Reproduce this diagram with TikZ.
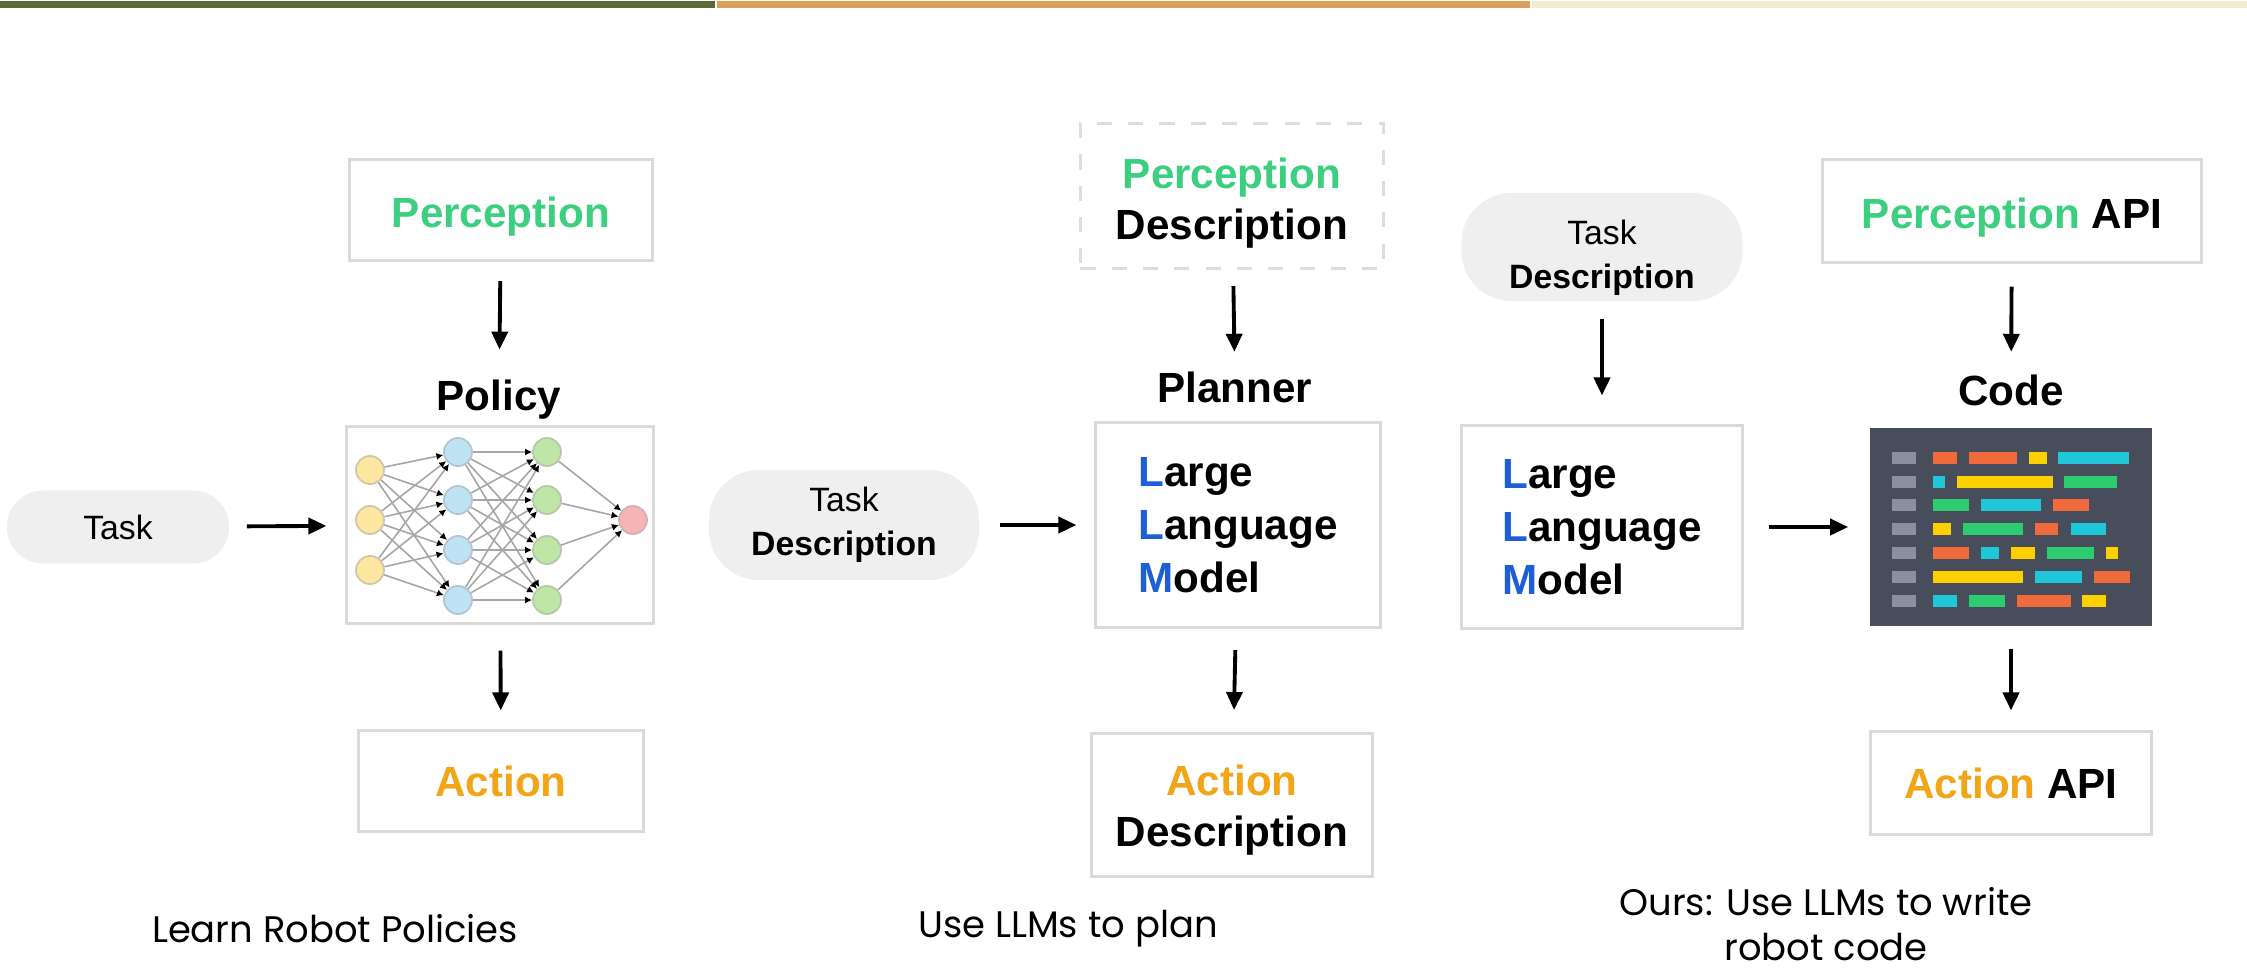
\documentclass[tikz,border=0pt]{standalone}
\usepackage{fontspec}
\setmainfont{Liberation Sans}
\newfontfamily\capfont{Poppins}
\usetikzlibrary{arrows.meta}

\definecolor{barolive}{HTML}{5B6B38}
\definecolor{barsand}{HTML}{D9A05B}
\definecolor{barcream}{HTML}{F0ECD2}
\definecolor{boxgray}{HTML}{DADADA}
\definecolor{pillgray}{HTML}{EFEFEF}
\definecolor{percgreen}{HTML}{3CCF7F}
\definecolor{actorange}{HTML}{F2A516}
\definecolor{llmblue}{HTML}{1E5ED6}
\definecolor{codebg}{HTML}{474D5A}
\definecolor{codegray}{HTML}{8A90A0}
\definecolor{codeorange}{HTML}{F06A3C}
\definecolor{codeyellow}{HTML}{FFD000}
\definecolor{codecyan}{HTML}{1EC8D8}
\definecolor{codegreen}{HTML}{2ECC71}
\definecolor{nnyellow}{HTML}{FCE6A0}
\definecolor{nnblue}{HTML}{BDE3F5}
\definecolor{nngreen}{HTML}{BFE6A6}
\definecolor{nnred}{HTML}{F8B4B4}

\newcommand{\bigtext}{\bfseries\fontsize{12}{14.5}\selectfont}
\newcommand{\llmfont}{\bfseries\fontsize{12}{15}\selectfont}
\newcommand{\pilltext}{\fontsize{9.6}{12.5}\selectfont}
\newcommand{\llmtext}{\textcolor{llmblue}{L}arge\\\textcolor{llmblue}{L}anguage\\\textcolor{llmblue}{M}odel}

\tikzset{
  box/.style={draw=boxgray, line width=0.85pt, fill=white, align=center, font=\bigtext},
  pill/.style={fill=pillgray, rounded corners=0.36cm, align=center, font=\pilltext},
  label/.style={font=\bigtext, inner sep=0pt},
  % sit the words a little lower in their box
  lowered/.style={text height=#1, text depth=0pt},
  flow/.style={-{Triangle[length=0.18cm,width=0.16cm]}, line width=1.1pt},
  caption/.style={font=\capfont\fontsize{10.5}{13}\selectfont, align=center},
  neuron/.style={circle, draw=#1!70!black!60, line width=0.5pt, minimum size=0.28cm, inner sep=0pt, fill=#1},
  synapse/.style={draw=gray!70, line width=0.45pt, -{Latex[length=0.07cm,width=0.07cm,black]}},
}

\begin{document}
\begin{tikzpicture}[x=0.01cm, y=-0.01cm]
    \useasboundingbox (0,0) rectangle (2247,969);

    % Header bars
    \fill[barolive] (0,1) rectangle (715,8);
    \fill[barsand] (717,1) rectangle (1530,8);
    \fill[barcream] (1532,1) rectangle (2247,8);

    % ---- Learn robot policies ----
    \node[box, lowered=10.1pt, minimum width=3.02cm, minimum height=1.01cm] (percep1) at (501,210) {\textcolor{percgreen}{Perception}};
    \node[label] (policy) at (499,400) {Policy};
    \node[box, minimum width=3.06cm, minimum height=1.96cm] (nnbox) at (500,525) {};
    \node[pill, minimum width=2.22cm, minimum height=0.73cm] (task1) at (118,527) {Task};
    \node[box, minimum width=2.85cm, minimum height=1.00cm] (action1) at (501,781) {\textcolor{actorange}{Action}};

    % Network inside the policy box
    \foreach \i/\yy in {1/470,2/520,3/570}
        \node[neuron=nnyellow] (in\i) at (370,\yy) {};
    \foreach \i/\yy in {1/452,2/500,3/550,4/600} {
        \node[neuron=nnblue] (hid\i) at (458,\yy) {};
        \node[neuron=nngreen] (hidb\i) at (547,\yy) {};
    }
    \node[neuron=nnred] (out) at (633,520) {};
    \foreach \i in {1,2,3}
        \foreach \j in {1,...,4}
            \draw[synapse] (in\i) -- (hid\j);
    \foreach \i in {1,...,4} {
        \foreach \j in {1,...,4}
            \draw[synapse] (hid\i) -- (hidb\j);
        \draw[synapse] (hidb\i) -- (out);
    }

    \draw[flow, shorten <=0.19cm, shorten >=0.30cm] (percep1) -- (policy);
    \draw[flow, shorten <=0.17cm, shorten >=0.19cm] (task1) -- (nnbox);
    \draw[flow, shorten <=0.26cm, shorten >=0.19cm] (nnbox) -- (action1);

    \node[caption] (cap1) at (335,929) {Learn Robot Policies};

    % ---- Use LLMs to plan ----
    \node[box, draw=boxgray!90, dash pattern=on 4.3pt off 4.6pt, lowered=24.6pt,
          minimum width=3.03cm, minimum height=1.45cm] (percep2) at (1232,196)
        {\textcolor{percgreen}{Perception}\\Description};
    \node[label] (planner) at (1235,387) {Planner};
    \node[box, minimum width=2.84cm, minimum height=2.05cm, align=left, font=\llmfont] (llm2) at (1238,525) {\llmtext};
    \node[pill, minimum width=2.70cm, minimum height=1.10cm, rounded corners=0.5cm] (task2) at (844,525)
        {Task\\\textbf{Description}};
    \node[box, lowered=23.4pt, minimum width=2.81cm, minimum height=1.43cm] (action2) at (1232,805)
        {\textcolor{actorange}{Action}\\Description};

    \draw[flow, shorten <=0.16cm, shorten >=0.19cm] (percep2) -- (planner);
    \draw[flow, shorten <=0.20cm, shorten >=0.18cm] (task2) -- (llm2);
    \draw[flow, shorten <=0.21cm, shorten >=0.22cm] (llm2) -- (action2);

    \node[caption] (cap2) at (1068,929) {Use LLMs to plan};

    % ---- Ours: LLMs write robot code ----
    \node[pill, lowered=23.7pt, minimum width=2.81cm, minimum height=1.08cm, rounded corners=0.5cm] (task3) at (1602,247)
        {Task\\\textbf{Description}};
    \node[box, minimum width=2.81cm, minimum height=2.02cm, align=left, font=\llmfont] (llm3) at (1602,527) {\llmtext};
    \node[box, lowered=10.1pt, minimum width=3.78cm, minimum height=1.02cm] (percep3) at (2012,211)
        {\textcolor{percgreen}{Perception} API};
    \node[label] (code) at (2011,390) {Code};
    \node[fill=codebg, minimum width=2.82cm, minimum height=1.98cm, inner sep=0pt] (codebox) at (2011,527) {};
    \node[box, minimum width=2.81cm, minimum height=1.02cm] (action3) at (2011,783)
        {\textcolor{actorange}{Action} API};

    % Code lines: gutter, then coloured tokens
    \foreach \yy/\toks in {
        458/{1933/1957/codeorange,1969/2017/codeorange,2029/2047/codeyellow,2058/2129/codecyan},
        482/{1933/1945/codecyan,1957/2053/codeyellow,2064/2117/codegreen},
        505/{1933/1969/codegreen,1981/2041/codecyan,2053/2089/codeorange},
        529/{1933/1951/codeyellow,1963/2023/codegreen,2035/2058/codeorange,2071/2106/codecyan},
        553/{1933/1969/codeorange,1981/1999/codecyan,2011/2035/codeyellow,2047/2094/codegreen,2106/2118/codeyellow},
        577/{1933/2023/codeyellow,2035/2082/codecyan,2094/2130/codeorange},
        601/{1933/1957/codecyan,1969/2005/codegreen,2017/2071/codeorange,2082/2106/codeyellow}} {
        \fill[codegray] (1892,\yy-6) rectangle (1916,\yy+6);
        \foreach \xa/\xb/\tok in \toks
            \fill[\tok] (\xa,\yy-6) rectangle (\xb,\yy+6);
    }

    \draw[flow, shorten <=0.17cm, shorten >=0.29cm] (task3) -- (llm3);
    \draw[flow, shorten <=0.25cm, shorten >=0.21cm] (llm3) -- (codebox);
    \draw[flow, shorten <=0.23cm, shorten >=0.22cm] (percep3) -- (code);
    \draw[flow, shorten <=0.22cm, shorten >=0.20cm] (codebox) -- (action3);

    \node[caption] (cap3) at (1826,924) {Ours: Use LLMs to write\\robot code};

\end{tikzpicture}
\end{document}
